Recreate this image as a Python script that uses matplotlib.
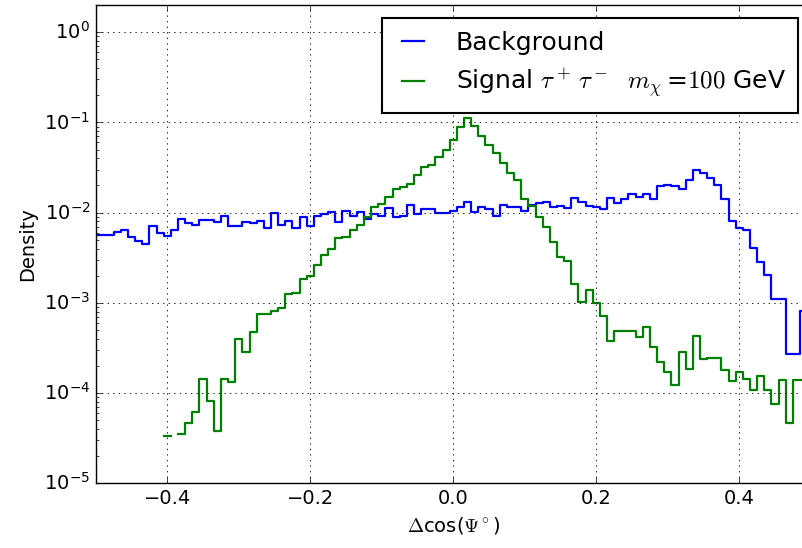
import numpy as np
import matplotlib
matplotlib.use('Agg')
import matplotlib.pyplot as plt

# bin edges (width 0.01, centred on multiples of 0.01)
edges = np.linspace(-0.505, 0.505, 102)

background = [0.00566, 0.00566, 0.00566, 0.00606, 0.00643, 0.00541, 0.00489, 0.00449, 0.00712, 0.00600,
              0.00551, 0.00643, 0.00851, 0.00774, 0.00730, 0.00830, 0.00830, 0.00795, 0.00919, 0.00717,
              0.00717, 0.00795, 0.00763, 0.00809, 0.00681, 0.00980, 0.00736, 0.00809, 0.00671, 0.00889,
              0.00712, 0.00919, 0.00967, 0.01010, 0.00795, 0.01052, 0.00919, 0.01026, 0.00845, 0.00967,
              0.00919, 0.01119, 0.00889, 0.00919, 0.01218, 0.00960, 0.01091, 0.01091, 0.00985, 0.00985,
              0.01036, 0.01157, 0.01305, 0.01026, 0.01148, 0.01091, 0.00919, 0.01218, 0.01166, 0.01148,
              0.01052, 0.01218, 0.01291, 0.01315, 0.01166, 0.01196, 0.01128, 0.01445, 0.01305, 0.01196,
              0.01142, 0.01091, 0.01445, 0.01291, 0.01409, 0.01601, 0.01505, 0.01601, 0.01409, 0.01979,
              0.02030, 0.01979, 0.01833, 0.02307, 0.02980, 0.02781, 0.02410, 0.02030, 0.01409, 0.00809,
              0.00681, 0.00643, 0.00402, 0.00286, 0.00203, 0.001092, 0.001092, 0.000268, 0.000268, 0.000816,
              0.000816]

signal = [0, 0, 0, 0, 0, 0, 0, 0, 0, 0,
          3.34e-5, 0, 3.55e-5, 4.66e-5, 6.17e-5, 1.42e-4, 8.11e-5, 3.80e-5, 1.42e-4, 1.33e-4,
          3.93e-4, 2.86e-4, 4.77e-4, 7.44e-4, 7.44e-4, 8.10e-4, 8.68e-4, 1.241e-3, 1.274e-3, 1.822e-3,
          2.008e-3, 2.626e-3, 3.391e-3, 3.974e-3, 5.196e-3, 5.414e-3, 6.43e-3, 7.30e-3, 8.85e-3, 1.157e-2,
          1.249e-2, 1.494e-2, 1.810e-2, 1.944e-2, 2.083e-2, 2.622e-2, 3.243e-2, 3.386e-2, 4.185e-2, 4.905e-2,
          6.335e-2, 8.83e-2, 0.1117, 9.01e-2, 7.11e-2, 5.65e-2, 4.57e-2, 3.59e-2, 2.74e-2, 2.31e-2,
          1.41e-2, 1.187e-2, 9.03e-3, 6.89e-3, 4.76e-3, 3.25e-3, 2.91e-3, 1.636e-3, 1.012e-3, 1.403e-3,
          1.007e-3, 7.13e-4, 3.79e-4, 4.90e-4, 4.90e-4, 4.90e-4, 4.20e-4, 5.42e-4, 3.25e-4, 2.22e-4,
          1.716e-4, 1.243e-4, 2.82e-4, 1.839e-4, 4.31e-4, 2.36e-4, 2.42e-4, 2.45e-4, 1.792e-4, 1.353e-4,
          1.716e-4, 1.42e-4, 1.094e-4, 1.537e-4, 1.094e-4, 7.65e-5, 1.413e-4, 4.66e-5, 1.413e-4, 1.413e-4,
          1.413e-4]

plt.style.use('classic')
plt.rcParams['font.family'] = ['DejaVu Sans']
plt.rcParams['mathtext.fontset'] = 'cm'


def steps(vals):
    # empty bins are not drawn on the log axis
    v = np.array(vals, dtype=float)
    v[v <= 0] = np.nan
    return np.append(v, v[-1])


fig = plt.figure(figsize=(8.02, 5.48), dpi=100)
ax = fig.add_axes([95.8 / 802, 64.7 / 548, 715 / 802, 478.3 / 548])
ax.set_yscale('log', nonpositive='mask')

ax.step(edges, steps(background), where='post', color='b', lw=1.6, label='Background')
ax.step(edges, steps(signal), where='post', color='g', lw=1.6,
        label=r'Signal $\tau^+\,\tau^-$  $m_\chi\,$=$100$ GeV')

ax.set_xlim(-0.5, 0.5)
ax.set_ylim(1e-5, 2)
ax.set_xticks([-0.4, -0.2, 0.0, 0.2, 0.4])
ax.grid(True, which='major', color='k', linestyle=':', linewidth=0.6)
ax.tick_params(labelsize=14)

ax.set_ylabel('Density', fontsize=14)
ax.set_xlabel(r'$\Delta$cos($\Psi^\circ$)', fontsize=14)

leg = ax.legend(loc='upper right', bbox_to_anchor=(798.3 / 802, 1 - 18.3 / 548),
                bbox_transform=fig.transFigure, borderaxespad=0, fontsize=18,
                handlelength=1.5, handletextpad=0.95, borderpad=0.5, fancybox=False)
leg.get_frame().set_edgecolor('black')
leg.get_frame().set_linewidth(1.5)

fig.savefig('out.png', dpi=100, facecolor='white')
